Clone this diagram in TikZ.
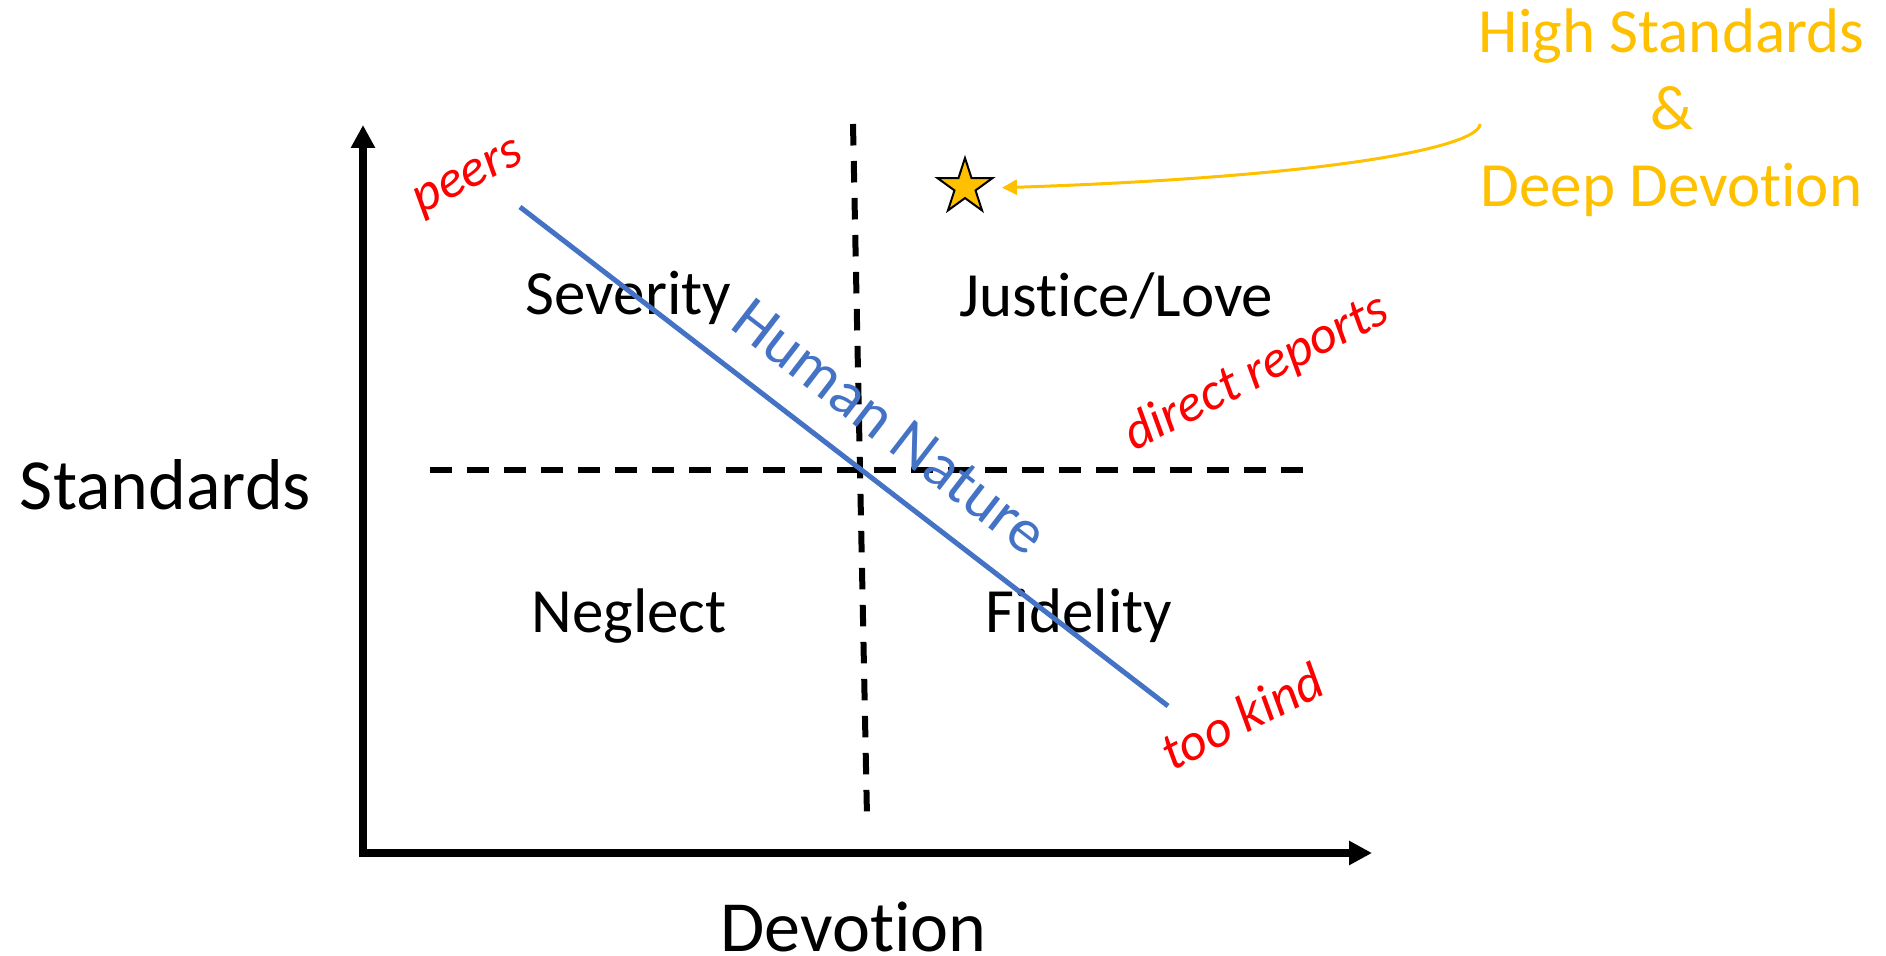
\documentclass[tikz,border=0pt]{standalone}
\usepackage{fontspec}
\setmainfont{Carlito}[Ligatures=NoCommon]
\usetikzlibrary{arrows.meta,shapes.geometric}
\definecolor{gold}{HTML}{FFC000}
\definecolor{hblue}{HTML}{4472C4}
\definecolor{lred}{HTML}{FF0000}
\begin{document}
\begin{tikzpicture}[x=0.5pt,y=-0.5pt,
  axis/.style={line width=3.75pt, line cap=rect, -{Triangle[length=11.5pt,width=11.5pt]}},
  divider/.style={line width=3pt, dash pattern=on 10.75pt off 7.75pt},
  quad/.style={font=\fontsize{31.5}{37}\selectfont, anchor=base, inner sep=0pt},
  axlabel/.style={font=\fontsize{36}{43}\selectfont, anchor=base, inner sep=0pt},
  who/.style={text=lred, font=\fontsize{26.5}{32}\selectfont\itshape, rotate=27, inner sep=0pt},
  trend/.style={draw=hblue, line width=2.5pt},
  callout/.style={text=gold, font=\fontsize{31.5}{38}\selectfont, anchor=base, inner sep=0pt},
  pointer/.style={draw=gold, line width=1.5pt, -{Triangle[length=7.5pt,width=7.5pt]}, shorten >=18.5pt},
  goal/.style={star, star points=5, star point ratio=2.618, fill=gold, draw=black, line width=1pt, minimum size=29pt, inner sep=0pt}
]
\useasboundingbox (0,0) rectangle (1886,956);

% quadrant dividers
\coordinate (vtop) at (853,124);
\coordinate (vbot) at (867,817);
\coordinate (hl) at (430,470);
\coordinate (hr) at (1311,470);
\draw[divider] (vtop) -- (vbot);
\draw[divider] (hl) -- (hr);

% axes
\coordinate (O) at (363,853);
\coordinate (ytip) at (363,125);
\coordinate (xtip) at (1372,853);
\draw[axis] (O) -- (ytip);
\draw[axis] (O) -- (xtip);

% axis labels
\node[axlabel] (stand) at (165.5,510) {Standards};
\node[axlabel] (devo) at (853.5,951) {Devotion};

% quadrant labels
\node[quad] (sev) at (628.5,315) {Severity};
\node[quad] (just) at (1116.5,317) {Justice/Love};
\node[quad] (negl) at (629,633) {Neglect};
\node[quad] (fid) at (1079,633) {Fidelity};

% human nature line
\coordinate (hnA) at (520,207);
\coordinate (hnB) at (1168,706);
\draw[trend] (hnA) -- (hnB);
\node[text=hblue, font=\fontsize{31.5}{37}\selectfont, rotate=-37.6, inner sep=0pt] (hn) at (890,427) {Human Nature};

% red labels
\node[who] (peers) at (470,180) {peers};
\node[who] (direct) at (1257,373) {direct reports};
\node[who] (kind) at (1242,716) {too kind};

% star and callout
\node[goal] (star) at (965,187) {};
\node[callout] (c1) at (1671.5,53) {High Standards};
\node[callout] (c2) at (1671.5,130) {\&};
\node[callout] (c3) at (1671.5,207) {Deep Devotion};
\coordinate (cs) at (1480,124);
\draw[pointer] (cs) .. controls (1480,145) and (1350,176) .. ([yshift=-1pt]star.center);
\end{tikzpicture}
\end{document}
